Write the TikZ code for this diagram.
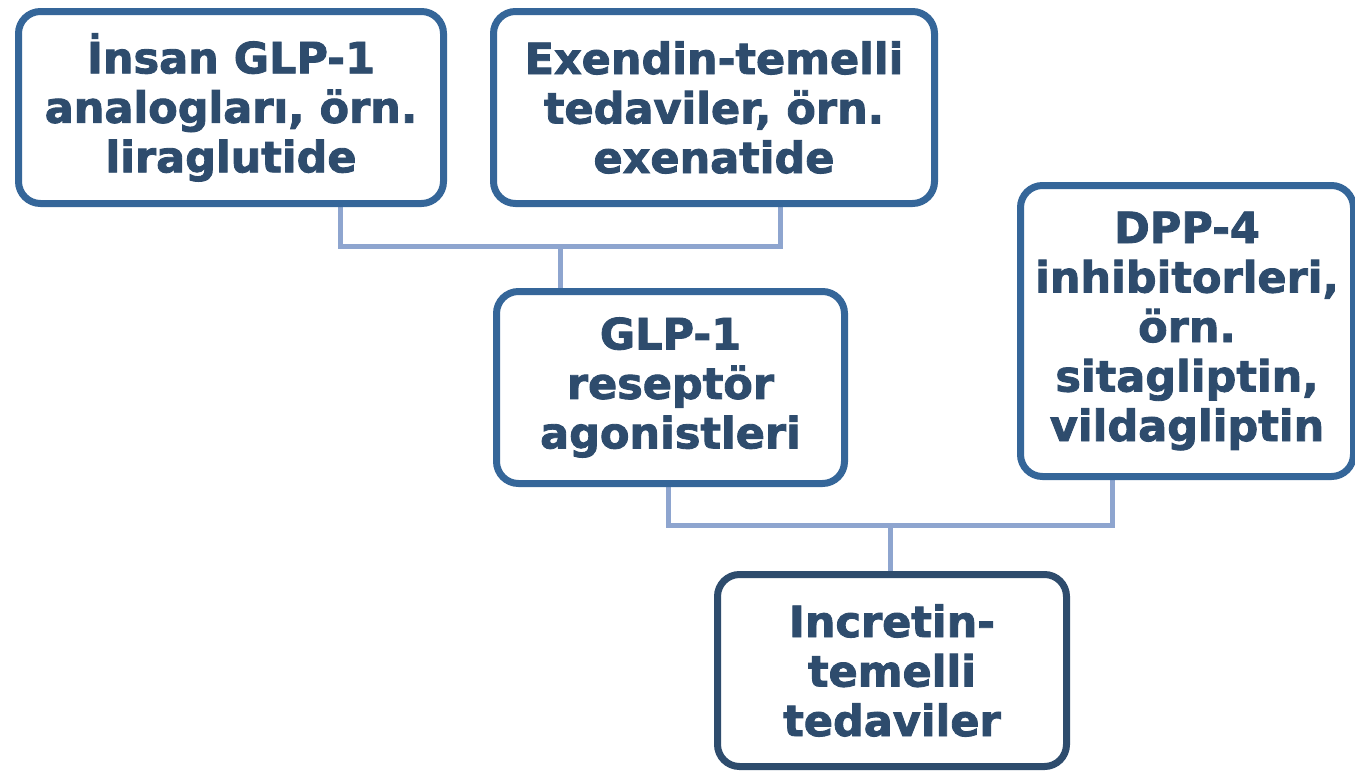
\documentclass[tikz,border=0pt]{standalone}
\usepackage{fontspec}
\setmainfont{DejaVu Sans}[BoldFeatures={FakeBold=2}]
\usetikzlibrary{backgrounds}
\definecolor{boxline}{HTML}{356699}
\definecolor{darkline}{HTML}{2E4C6D}
\definecolor{txt}{HTML}{2E4C6D}
\definecolor{conn}{HTML}{8EA5CF}
\tikzset{
  box/.style={draw=boxline, line width=7pt, rounded corners=22pt, fill=white,
    align=center, text=txt, inner sep=0pt,
    font=\fontsize{43pt}{49.5pt}\selectfont\bfseries},
  darkbox/.style={box, draw=darkline},
  link/.style={draw=conn, line width=5pt}
}
\begin{document}
\begin{tikzpicture}[x=1pt,y=-1pt]
\useasboundingbox (0,0) rectangle (1355,771);
\node[box, minimum width=425pt, minimum height=192pt] (a) at (231,107.5) {İnsan GLP-1\\analogları, örn.\\liraglutide};
\node[box, minimum width=441pt, minimum height=192pt] (b) at (714,107.5) {Exendin-temelli\\tedaviler, örn.\\exenatide};
\node[box, minimum width=333pt, minimum height=291pt] (c) at (1187,331) {DPP-4\\inhibitorleri,\\örn.\\sitagliptin,\\vildagliptin};
\node[box, minimum width=348pt, minimum height=192pt] (d) at (670.5,387.5) {GLP-1\\reseptör\\agonistleri};
\node[darkbox, minimum width=349pt, minimum height=192pt] (e) at (892,670.5) {Incretin-\\temelli\\tedaviler};
\coordinate (j1) at (560,246);
\coordinate (j2) at (890,525);
\begin{pgfonlayer}{background}
\draw[link] ([xshift=109pt]a.south) |- (j1) -| ([xshift=66pt]b.south);
\draw[link] (j1) -- (j1 |- d.north);
\draw[link] ([xshift=-2.5pt]d.south) |- (j2) -| ([xshift=-75pt]c.south);
\draw[link] (j2) -- (j2 |- e.north);
\end{pgfonlayer}
\end{tikzpicture}
\end{document}
